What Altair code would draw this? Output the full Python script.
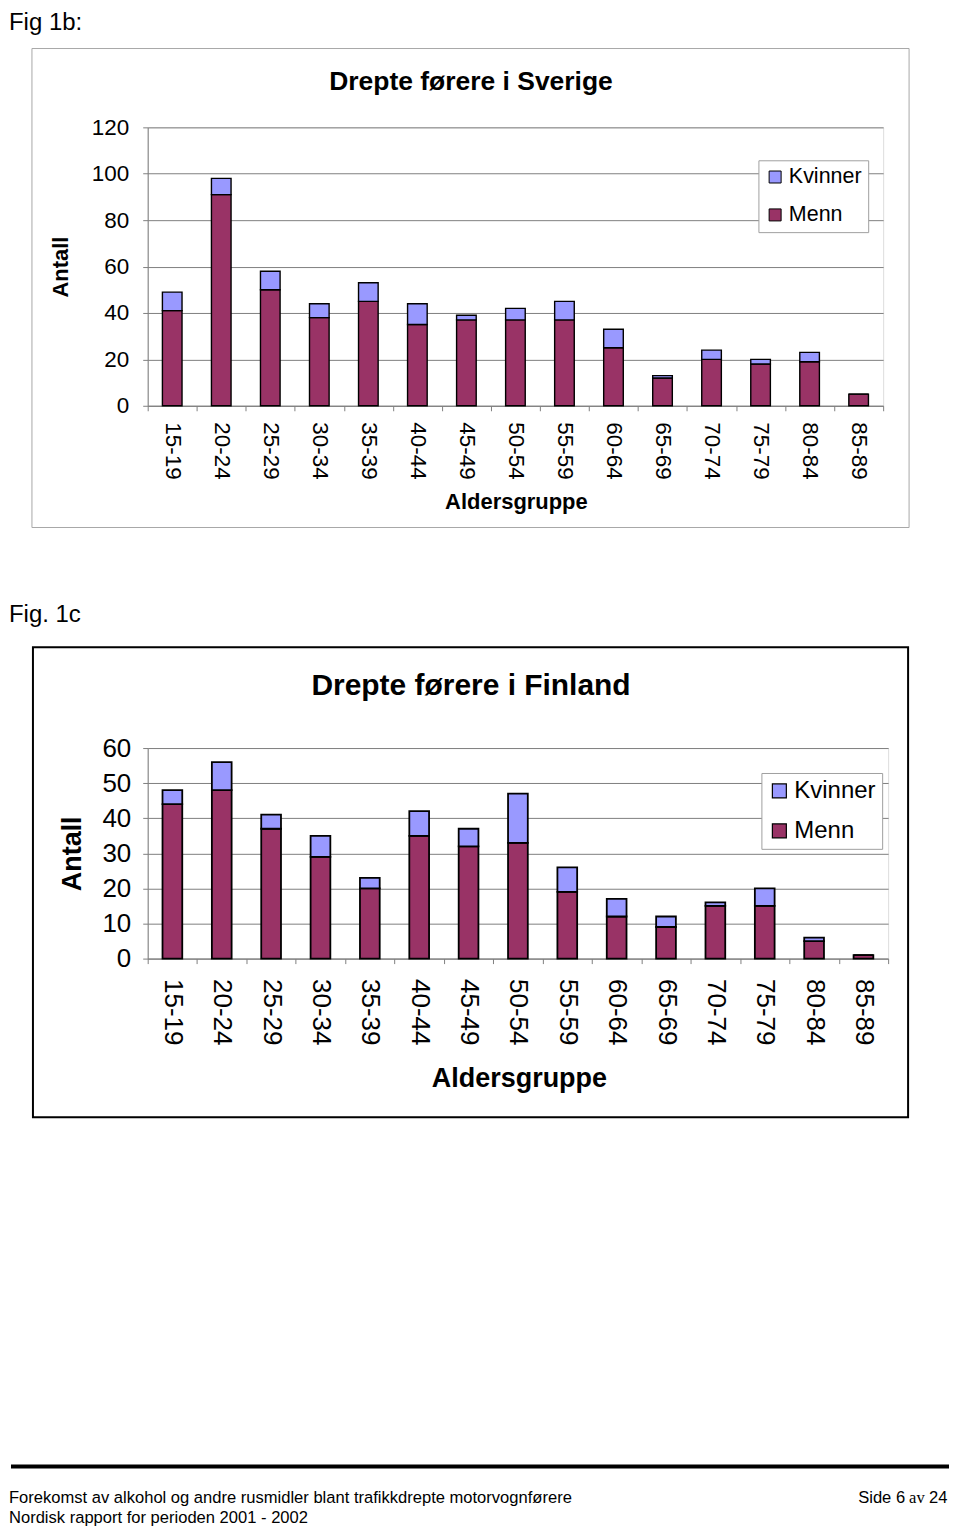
import altair as alt
import pandas as pd

# ---------------- data ----------------
ages = ['15-19', '20-24', '25-29', '30-34', '35-39', '40-44', '45-49', '50-54',
        '55-59', '60-64', '65-69', '70-74', '75-79', '80-84', '85-89']
se_menn = [41, 91, 50, 38, 45, 35, 37, 37, 37, 25, 12, 20, 18, 19, 5]
se_kvinner = [8, 7, 8, 6, 8, 9, 2, 5, 8, 8, 1, 4, 2, 4, 0]
fi_menn = [44, 48, 37, 29, 20, 35, 32, 33, 19, 12, 9, 15, 15, 5, 1]
fi_kvinner = [4, 8, 4, 6, 3, 7, 5, 14, 7, 5, 3, 1, 5, 1, 0]
series = ['Kvinner', 'Menn']
colors = ['#9999FF', '#993366']
se_ticks = [0, 20, 40, 60, 80, 100, 120]
fi_ticks = [0, 10, 20, 30, 40, 50, 60]

FONT = 'Liberation Sans'
SERIF = 'Liberation Serif'


def long_table(menn, kvinner):
    rows = []
    for a, m, k in zip(ages, menn, kvinner):
        rows.append({'age': a, 'sex': 'Menn', 'n': m, 'ord': 0})
        rows.append({'age': a, 'sex': 'Kvinner', 'n': k, 'ord': 1})
    return pd.DataFrame(rows)


def one():
    return alt.Data(values=[{}])


def text_layer(txt, x, y, size, bold=False, align='left', font=FONT, baseline='alphabetic'):
    return alt.Chart(one()).mark_text(
        text=txt, font=font, fontSize=size, fontWeight='bold' if bold else 'normal',
        align=align, baseline=baseline, color='black'
    ).encode(x=alt.value(x), y=alt.value(y))


def box_layer(x1, x2, y1, y2, color, width):
    return alt.Chart(one()).mark_rect(fillOpacity=0, stroke=color, strokeWidth=width).encode(
        x=alt.value(x1), x2=alt.value(x2), y=alt.value(y1), y2=alt.value(y2))


def bars_layer(df, ymax, ticks, lab_fs, title_fs, xpad, ypad, x_title_x, x_title_y,
               y_title_x, y_title_y, sw, leg):
    return alt.Chart(df).mark_bar(
        stroke='black', strokeWidth=sw, width=alt.RelativeBandSize(0.4)
    ).encode(
        x=alt.X('age:N', sort=ages,
                scale=alt.Scale(paddingInner=0, paddingOuter=0),
                axis=alt.Axis(labelAngle=90, tickBand='extent', tickSize=5,
                              tickColor='#808080', domainColor='#808080',
                              labelFont=FONT, labelFontSize=lab_fs, labelColor='black',
                              labelPadding=xpad, grid=False,
                              title='Aldersgruppe', titleFont=FONT, titleFontSize=title_fs,
                              titleFontWeight='bold', titleColor='black',
                              titleX=x_title_x, titleY=x_title_y,
                              titleAlign='center', titleBaseline='alphabetic')),
        y=alt.Y('n:Q', stack='zero',
                scale=alt.Scale(domain=[0, ymax], nice=False),
                axis=alt.Axis(values=ticks, tickSize=5, tickColor='#808080',
                              domainColor='#808080', grid=True, gridColor='#7f7f7f',
                              labelFont=FONT, labelFontSize=lab_fs, labelColor='black',
                              labelPadding=ypad,
                              title='Antall', titleFont=FONT, titleFontSize=title_fs,
                              titleFontWeight='bold', titleColor='black',
                              titleX=y_title_x, titleY=y_title_y,
                              titleAlign='center', titleBaseline='middle')),
        color=alt.Color('sex:N', title=None,
                        scale=alt.Scale(domain=series, range=colors),
                        legend=leg),
        order=alt.Order('ord:Q'),
    )


# ---------------- Sweden (plot origin at page 147,125) ----------------
SX, SY = 147, 125
se_leg = alt.Legend(orient='none', legendX=759 - SX, legendY=158 - SY,
                    fillColor='white', strokeColor='#a0a0a0', padding=6,
                    symbolType='square', symbolSize=144, symbolStrokeColor='black',
                    symbolStrokeWidth=1, symbolOpacity=1,
                    labelFont=FONT, labelFontSize=21.5, labelColor='black',
                    labelOffset=3, rowPadding=15)
sweden = alt.layer(
    # invisible frame that fixes the page extent
    alt.Chart(one()).mark_rect(opacity=0).encode(
        x=alt.value(8 - SX), x2=alt.value(952 - SX), y=alt.value(8 - SY), y2=alt.value(1527 - SY)),
    box_layer(31 - SX, 910 - SX, 46 - SY, 526 - SY, '#a8a8a8', 1),
    text_layer('Fig 1b:', 8 - SX, 8 - SY, 24, baseline='top'),
    text_layer('Drepte førere i Sverige', 471 - SX, 88 - SY, 26.5, bold=True, align='center'),
    text_layer('Fig. 1c', 8 - SX, 621 - SY, 24),
    bars_layer(long_table(se_menn, se_kvinner), 120, se_ticks, 22.5, 22,
               11, 14, 516 - SX, 507 - 404, 60 - SX, (404 - SY) / 2, 1.4, se_leg),
).properties(width=737, height=279)

# ---------------- Finland (plot origin at page 147,747) ----------------
FX, FY = 147, 747
fi_leg = alt.Legend(orient='none', legendX=762 - FX, legendY=772 - FY,
                    fillColor='white', strokeColor='#a0a0a0', padding=6,
                    symbolType='square', symbolSize=196, symbolStrokeColor='black',
                    symbolStrokeWidth=1.2, symbolOpacity=1,
                    labelFont=FONT, labelFontSize=24, labelColor='black',
                    labelOffset=3, rowPadding=16)
finland = alt.layer(
    box_layer(32 - FX, 909 - FX, 646 - FY, 1117 - FY, 'black', 2),
    text_layer('Drepte førere i Finland', 471 - FX, 694 - FY, 30, bold=True, align='center'),
    bars_layer(long_table(fi_menn, fi_kvinner), 60, fi_ticks, 26, 27,
               15, 12, 519 - FX, 1086 - 958, 72 - FX, (958 - FY) / 2, 1.8, fi_leg),
    # page footer
    alt.Chart(one()).mark_rule(color='black', strokeWidth=4).encode(
        x=alt.value(10 - FX), x2=alt.value(950 - FX), y=alt.value(1467 - FY)),
    text_layer('Forekomst av alkohol og andre rusmidler blant trafikkdrepte motorvognførere',
               8 - FX, 1504 - FY, 16.6),
    text_layer('Nordisk rapport for perioden 2001 - 2002', 8 - FX, 1527 - FY, 16.6,
               baseline='bottom'),
    text_layer('Side 6', 859 - FX, 1504 - FY, 16.6),
    text_layer('av', 910 - FX, 1504 - FY, 16.6, font=SERIF),
    text_layer('24', 930 - FX, 1504 - FY, 16.6),
).properties(width=742, height=211)

chart = alt.vconcat(
    sweden, finland, spacing=343, bounds='flush', padding=0
).resolve_scale(
    color='independent', x='independent', y='independent'
).resolve_legend(
    color='independent'
).configure_view(
    fill='#C0C0C0', stroke='#808080', strokeWidth=1
).configure(background='white')

chart.save('out.html', embed_options={'renderer': 'svg', 'actions': False})
